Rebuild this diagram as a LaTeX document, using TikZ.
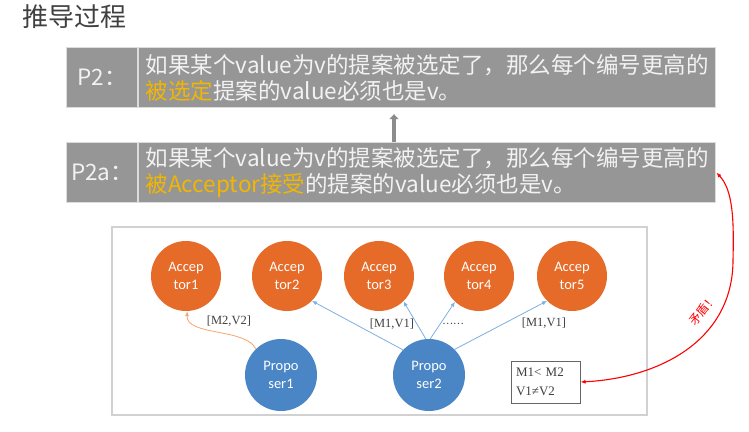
\documentclass[tikz,border=0pt]{standalone}
\usepackage{fontspec}
\usetikzlibrary{arrows.meta}
\newfontfamily\cjk{Noto Sans CJK SC}
\newfontfamily\calib{Carlito}
\newfontfamily\song{Liberation Serif}
\definecolor{boxgray}{HTML}{969696}
\definecolor{boxline}{HTML}{DCDCDC}
\definecolor{hilite}{HTML}{F2B600}
\definecolor{accorange}{HTML}{E66A28}
\definecolor{propblue}{HTML}{4A85C6}
\definecolor{msgblue}{HTML}{7DAFE0}
\definecolor{msgorange}{HTML}{F4A66E}
\definecolor{darktext}{HTML}{404040}

\begin{document}
\begin{tikzpicture}[x=1pt,y=-1pt,
  lbl/.style={draw=boxline,line width=1.2pt,fill=boxgray,text=white!95!black,
    minimum width=71pt,minimum height=60pt,inner sep=0pt,anchor=north west,
    font=\cjk\fontsize{22.5}{26}\selectfont},
  txt/.style={lbl,minimum width=0pt,text width=563pt,inner xsep=7pt,align=left},
  acc/.style={circle,fill=accorange,minimum size=70pt,inner sep=0pt,text=white,
    align=center,font=\calib\fontsize{14.5}{18}\selectfont},
  prop/.style={acc,fill=propblue,minimum size=72pt},
  msg/.style={font=\song\fontsize{12.5}{14}\selectfont,text=darktext,inner sep=1pt},
  send/.style={draw=msgblue,line width=0.8pt,-{Latex[length=5pt,width=4pt]}}]
  \path[fill=white,use as bounding box] (0,0) rectangle (749,431);

  \node[font=\cjk\fontsize{26}{30}\selectfont,text=darktext,anchor=west,inner sep=0pt] (title) at (22,17) {推导过程};

  \node[lbl] (p2l) at (66,47) {P2：};
  \node[txt] (p2t) at (p2l.north east) {如果某个value为v的提案被选定了，那么每个编号更高的\\{\color{hilite}被选定}提案的value必须也是v。};
  \node[lbl] (p2al) at (66,142) {P2a：};
  \node[txt] (p2at) at (p2al.north east) {如果某个value为v的提案被选定了，那么每个编号更高的\\{\color{hilite}被Acceptor接受}的提案的value必须也是v。};
  \coordinate (up) at (394,142);
  \draw[line width=3.5pt,draw=black!45,-{Triangle[width=9pt,length=5pt]},shorten >=6pt] (up) -- (up |- p2t.south);

  \draw[draw=black!18,line width=1.2pt] (112,227) rectangle (647,415);
  \foreach \i/\x in {1/186,2/287,3/379,4/479,5/572}
    \node[acc] (acc\i) at (\x,276) {Accep\\tor\i};
  \node[prop] (prop1) at (281,375) {Propo\\ser1};
  \node[prop] (prop2) at (429,375) {Propo\\ser2};

  \draw[send] (prop2.136) -- (acc2.-45);
  \draw[send] (prop2.95) -- (acc3.-46);
  \draw[send] (prop2.88) -- (acc4.-133);
  \draw[send] (prop2.45) -- (acc5.-135);
  \draw[send,draw=msgorange] (prop1.134) .. controls (246,328) and (186,336) .. (acc1.-88);

  \node[msg] (m2v2) at (229,321) {[M2,V2]};
  \node[msg] (m1v1a) at (392,324) {[M1,V1]};
  \node[font=\cjk\fontsize{10}{12}\selectfont,text=darktext,inner sep=1pt] (more) at (453,324) {……};
  \node[msg] (m1v1b) at (544,323) {[M1,V1]};

  \node[draw=darktext!80,line width=1pt,fill=white,text width=59pt,inner xsep=5pt,minimum height=42pt,
    align=left,font=\song\fontsize{13}{19}\selectfont,text=darktext] (note) at (545.5,382) {M1< M2\\V1≠V2};
  \draw[red,line width=1.1pt,{Latex[length=5pt,width=4pt]}-{Latex[length=5pt,width=4pt]}] (note.east) .. controls (660,378) and (733,340) .. (733,260) .. controls (734,220) and (733,190) .. (p2at.east);
  \node[red,rotate=52,font=\cjk\fontsize{12}{14}\selectfont,inner sep=1pt] (clash) at (703,310) {矛盾！};
\end{tikzpicture}
\end{document}
